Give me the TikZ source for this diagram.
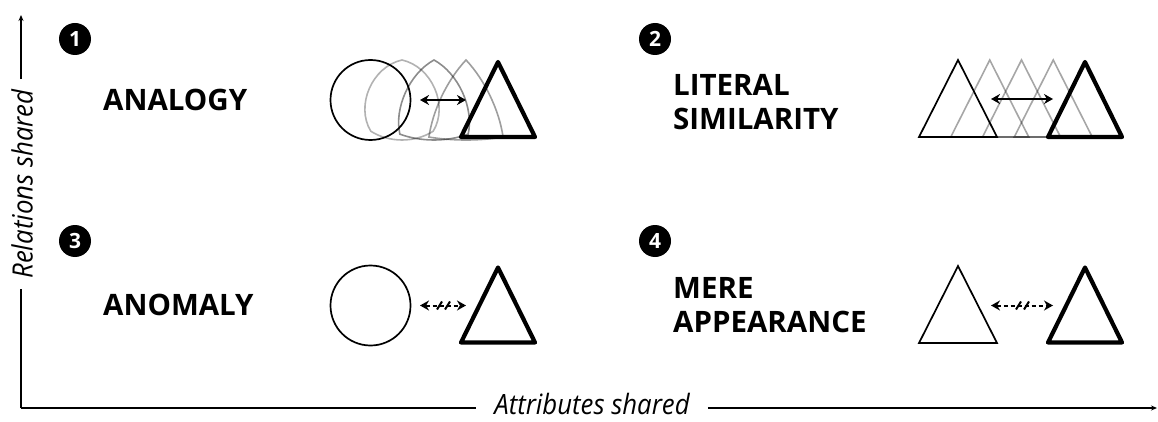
\documentclass[tikz,border=0pt]{standalone}
\usepackage{fontspec}
\setmainfont{Open Sans}
\newfontfamily\axisfont{Open Sans}[FakeStretch=0.92]
\usetikzlibrary{arrows.meta,calc}

% Point of a shape morphing from a circle (t=0) to a triangle (t=1),
% centred at (\mrx,\mry): #1,#2 circle offset, #3,#4 triangle offset.
\newcommand\mrp[4]{({\mrx+(1-\mrt)*(#1)+\mrt*(#3)},{\mry+(1-\mrt)*(#2)+\mrt*(#4)})}
% Closed morph outline built from three cubic segments.
\newcommand\morph[4]{%
  \def\mrt{#1}\def\mrx{#2}\def\mry{#3}%
  \draw[#4] \mrp{0}{-40}{0}{-40}
    .. controls \mrp{-35.64}{-40}{-13.33}{-13.33} and \mrp{-53.48}{3.08}{-26.67}{13.33}
    .. \mrp{-28.28}{28.28}{-40}{40}
    .. controls \mrp{-12.66}{43.9}{-13.33}{40} and \mrp{12.66}{43.9}{13.33}{40}
    .. \mrp{28.28}{28.28}{40}{40}
    .. controls \mrp{53.48}{3.08}{26.67}{13.33} and \mrp{35.64}{-40}{13.33}{-13.33}
    .. cycle;}
% Plain triangle centred at (#1,#2)
\newcommand\tri[3]{\draw[#3] (#1,#2-39) -- (#1-39,#2+38) -- (#1+39,#2+38) -- cycle;}
\newcommand\thicktri[2]{\draw[thickstroke] (#1,#2-38) -- (#1-37,#2+37) -- (#1+37,#2+37) -- cycle;}

\tikzset{
  quadlabel/.style={font=\bfseries\fontsize{29.5}{34}\selectfont, align=left, anchor=west, inner sep=0pt},
  badge/.style={circle, fill=black, text=white, font=\bfseries\fontsize{21}{21}\selectfont, minimum size=32pt, inner sep=0pt},
  thinstroke/.style={line width=1.7pt},
  thickstroke/.style={line width=4.2pt, line join=round},
  ghost/.style={line width=1.6pt, draw=black, draw opacity=#1},
  arrowline/.style={line width=2pt, {Stealth[length=9pt,width=10pt]}-{Stealth[length=9pt,width=10pt]}},
  brokenline/.style={line width=2pt, dash pattern=on 4pt off 3pt, {Stealth[length=9pt,width=10pt]}-{Stealth[length=9pt,width=10pt]}},
  slash/.style={line width=2pt},
  axis/.style={line width=1.6pt},
  axislabel/.style={font=\axisfont\itshape\fontsize{28}{28}\selectfont, inner xsep=12pt, inner ysep=0pt},
}

\begin{document}
\begin{tikzpicture}[x=1pt,y=-1pt]
\useasboundingbox (0,0) rectangle (1158,422);

% Axes
\coordinate (origin) at (21,408);
\coordinate (xend) at (1157,408);
\coordinate (yend) at (21,15);
\node[axislabel, inner xsep=18pt, anchor=base] (xlab) at (592,414) {Attributes shared};
\node[axislabel, rotate=90, inner xsep=10pt] (ylab) at (22,184) {Relations shared};
\draw[axis] (origin) -- (origin -| xlab.west);
\draw[axis, -{Stealth[length=6pt,width=5pt]}] (xlab.east |- origin) -- (xend);
\draw[axis] (origin) -- (origin |- ylab.west);
\draw[axis, -{Stealth[length=6pt,width=5pt]}] (ylab.east -| origin) -- (yend);

% Badges
\node[badge] (b1) at (75,39) {1};
\node[badge] (b2) at (655,39) {2};
\node[badge] (b3) at (75,241) {3};
\node[badge] (b4) at (655,241) {4};

% Quadrant labels
\node[quadlabel] (l1) at (103,100) {ANALOGY};
\node[quadlabel] (l2) at (673,102) {LITERAL\\SIMILARITY};
\node[quadlabel] (l3) at (103,305) {ANOMALY};
\node[quadlabel] (l4) at (673,305) {MERE\\APPEARANCE};

% 1: analogy -- circle morphing into a triangle
\morph{0.25}{402}{100}{ghost=0.3}
\morph{0.5}{434}{100}{ghost=0.45}
\morph{0.75}{466}{100}{ghost=0.38}
\node[circle, draw, thinstroke, minimum size=80pt, inner sep=0pt] (c1) at (370.5,100) {};
\thicktri{498}{100}
\coordinate (a1l) at (420,100);
\coordinate (a1r) at (466,100);
\draw[arrowline] (a1l) -- (a1r);

% 2: literal similarity -- triangle sliding onto a triangle
\tri{989.75}{99}{ghost=0.35}
\tri{1021.5}{99}{ghost=0.35}
\tri{1053.25}{99}{ghost=0.35}
\tri{958}{99}{thinstroke}
\thicktri{1085}{100}
\coordinate (a2l) at (991,99);
\coordinate (a2r) at (1053,99);
\draw[arrowline] (a2l) -- (a2r);

% 3: anomaly
\node[circle, draw, thinstroke, minimum size=80pt, inner sep=0pt] (c3) at (370.5,305.5) {};
\thicktri{498}{305.5}
\coordinate (a3l) at (420,305.5);
\coordinate (a3r) at (466,305.5);
\coordinate (a3m) at ($(a3l)!0.5!(a3r)$);
\draw[brokenline] (a3l) -- (a3r);
\draw[slash] ($(a3m)+(-6,4)$) -- ($(a3m)+(-1,-4)$);
\draw[slash] ($(a3m)+(2,4)$) -- ($(a3m)+(7,-4)$);

% 4: mere appearance
\tri{958}{305}{thinstroke}
\thicktri{1085}{305.5}
\coordinate (a4l) at (991,305.5);
\coordinate (a4r) at (1053,305.5);
\coordinate (a4m) at ($(a4l)!0.5!(a4r)$);
\draw[brokenline] (a4l) -- (a4r);
\draw[slash] ($(a4m)+(-6,4)$) -- ($(a4m)+(-1,-4)$);
\draw[slash] ($(a4m)+(2,4)$) -- ($(a4m)+(7,-4)$);
\end{tikzpicture}
\end{document}
